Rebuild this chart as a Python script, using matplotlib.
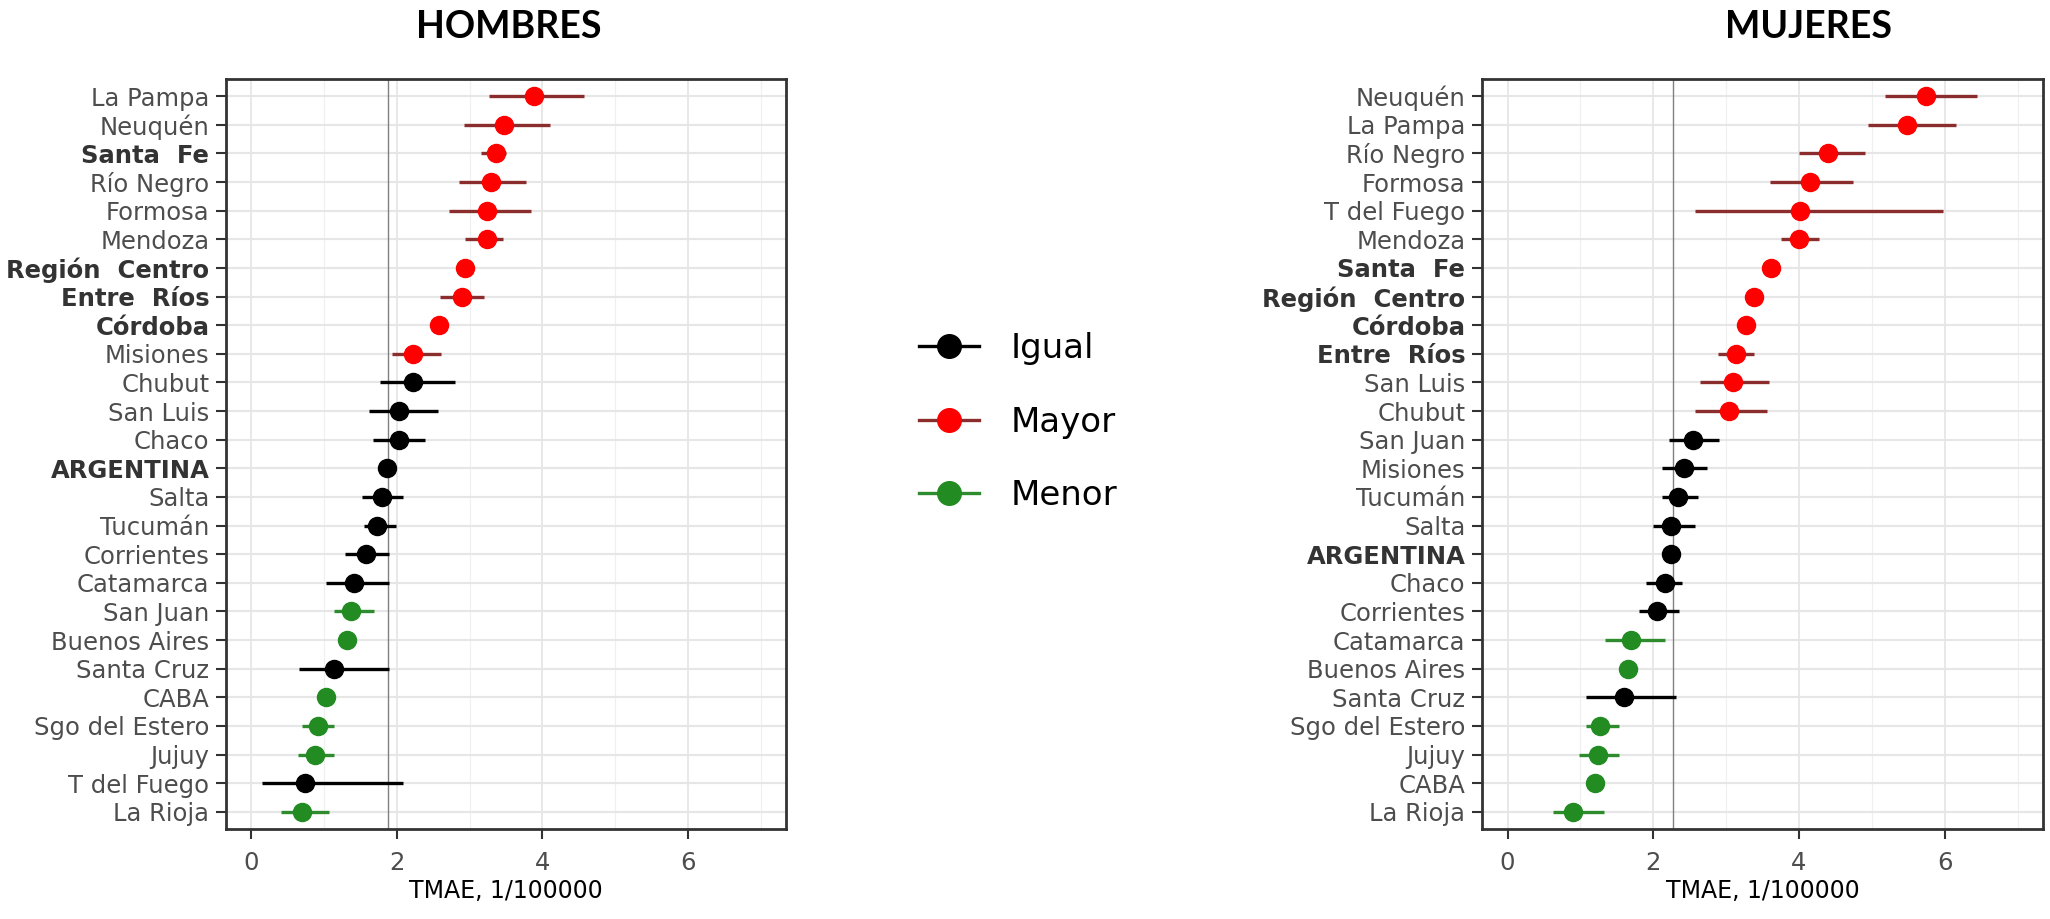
import matplotlib
matplotlib.use("Agg")
import matplotlib.pyplot as plt
from matplotlib.lines import Line2D
import numpy as np

# ---------------- DATA ----------------
names_h = ["La Pampa", "Neuquén", "Santa Fe", "Río Negro", "Formosa", "Mendoza",
           "Región Centro", "Entre Ríos", "Córdoba", "Misiones", "Chubut", "San Luis",
           "Chaco", "ARGENTINA", "Salta", "Tucumán", "Corrientes", "Catamarca",
           "San Juan", "Buenos Aires", "Santa Cruz", "CABA", "Sgo del Estero",
           "Jujuy", "T del Fuego", "La Rioja"]
est_h = [3.89, 3.47, 3.36, 3.30, 3.24, 3.24, 2.93, 2.90, 2.58, 2.22, 2.22, 2.03, 2.03,
         1.87, 1.80, 1.73, 1.57, 1.41, 1.37, 1.31, 1.14, 1.02, 0.91, 0.88, 0.73, 0.70]
lo_h = [3.27, 2.92, 3.15, 2.85, 2.72, 2.94, 2.83, 2.59, 2.48, 1.93, 1.77, 1.61, 1.67,
        1.82, 1.52, 1.55, 1.28, 1.02, 1.13, 1.25, 0.66, 0.96, 0.70, 0.64, 0.15, 0.41]
hi_h = [4.57, 4.11, 3.50, 3.78, 3.85, 3.46, 3.04, 3.20, 2.69, 2.60, 2.80, 2.57, 2.38,
        1.92, 2.09, 1.99, 1.89, 1.89, 1.69, 1.38, 1.89, 1.08, 1.14, 1.13, 2.09, 1.07]
grp_h = ["Mayor"] * 10 + ["Igual"] * 8 + ["Menor", "Menor", "Igual", "Menor", "Menor",
                                          "Menor", "Igual", "Menor"]
ref_h = 1.88

names_m = ["Neuquén", "La Pampa", "Río Negro", "Formosa", "T del Fuego", "Mendoza",
           "Santa Fe", "Región Centro", "Córdoba", "Entre Ríos", "San Luis", "Chubut",
           "San Juan", "Misiones", "Tucumán", "Salta", "ARGENTINA", "Chaco", "Corrientes",
           "Catamarca", "Buenos Aires", "Santa Cruz", "Sgo del Estero", "Jujuy", "CABA",
           "La Rioja"]
est_m = [5.75, 5.49, 4.40, 4.15, 4.02, 4.00, 3.62, 3.39, 3.27, 3.13, 3.10, 3.04, 2.54,
         2.42, 2.34, 2.25, 2.25, 2.16, 2.05, 1.70, 1.66, 1.60, 1.27, 1.24, 1.20, 0.90]
lo_m = [5.18, 4.95, 4.00, 3.60, 2.58, 3.76, 3.52, 3.30, 3.17, 2.89, 2.64, 2.58, 2.22,
        2.12, 2.12, 2.00, 2.20, 1.90, 1.80, 1.34, 1.60, 1.08, 1.08, 0.98, 1.15, 0.63]
hi_m = [6.44, 6.15, 4.90, 4.74, 5.98, 4.27, 3.72, 3.48, 3.37, 3.39, 3.59, 3.56, 2.90,
        2.74, 2.61, 2.57, 2.30, 2.40, 2.35, 2.16, 1.72, 2.31, 1.53, 1.53, 1.25, 1.32]
grp_m = ["Mayor"] * 12 + ["Igual"] * 7 + ["Menor", "Menor", "Igual", "Menor", "Menor",
                                          "Menor", "Menor"]
ref_m = 2.27

bold_names = ["Santa Fe", "Región Centro", "Entre Ríos", "Córdoba", "ARGENTINA"]
legend_labels = ["Igual", "Mayor", "Menor"]
x_ticks = [0, 2, 4, 6]
x_label = "TMAE, 1/100000"
titles = ["HOMBRES", "MUJERES"]

# ---------------- STYLE ----------------
point_col = {"Igual": "#000000", "Mayor": "#FF0000", "Menor": "#228B22"}
line_col = {"Igual": "#000000", "Mayor": "#8B2D2D", "Menor": "#2E8B2E"}

W, H = 2050, 919
DPI = 100
fig = plt.figure(figsize=(W / DPI, H / DPI), dpi=DPI)
plt.rcParams["font.family"] = ["DejaVu Sans"]

ax_h = fig.add_axes([226 / W, 1 - 829 / H, 560 / W, 750 / H])
ax_m = fig.add_axes([1482 / W, 1 - 829 / H, 561 / W, 750 / H])


def draw(ax, names, est, lo, hi, grp, ref):
    n = len(names)
    y = np.arange(n)[::-1]
    ax.set_xlim(-0.35, 7.35)
    ax.set_ylim(-0.6, n - 1 + 0.6)
    # grid
    for v in [1, 3, 5, 7]:
        ax.axvline(v, color="#F0F0F0", lw=0.9, zorder=0)
    for v in x_ticks:
        ax.axvline(v, color="#E6E6E6", lw=1.3, zorder=0)
    for yy in y:
        ax.axhline(yy, color="#E6E6E6", lw=1.5, zorder=0)
    ax.axvline(ref, color="#808080", lw=1.0, zorder=1)
    for yy, e, l, h, g in zip(y, est, lo, hi, grp):
        ax.plot([l, h], [yy, yy], color=line_col[g], lw=2.4, solid_capstyle="butt", zorder=2)
        ax.plot([e], [yy], marker="o", ms=13, color=point_col[g],
                markeredgecolor=point_col[g], zorder=3)
    ax.set_yticks(y)
    labels = [nm.replace(" ", "  ") if nm in bold_names and nm != "ARGENTINA" else nm
              for nm in names]
    ax.set_yticklabels(labels)
    for t, nm in zip(ax.get_yticklabels(), names):
        if nm in bold_names:
            t.set_fontweight("bold")
            t.set_color("#333333")
        else:
            t.set_color("#4D4D4D")
    ax.set_xticks(x_ticks)
    ax.set_xticklabels([str(v) for v in x_ticks], color="#4D4D4D")
    ax.tick_params(axis="both", labelsize=17.5, color="#333333", width=1.5, length=7)
    ax.tick_params(axis="y", pad=5)
    ax.tick_params(axis="x", pad=9)
    ax.set_xlabel(x_label, fontsize=17, color="#000000", labelpad=3)
    for s in ax.spines.values():
        s.set_color("#333333")
        s.set_linewidth(2.0)


draw(ax_h, names_h, est_h, lo_h, hi_h, grp_h, ref_h)
draw(ax_m, names_m, est_m, lo_m, hi_m, grp_m, ref_m)

fig.text(509 / W, 1 - 27 / H, titles[0], ha="center", va="center",
         fontsize=27, fontweight="bold", family=["Lato", "DejaVu Sans"])
fig.text(1808 / W, 1 - 27 / H, titles[1], ha="center", va="center",
         fontsize=27, fontweight="bold", family=["Lato", "DejaVu Sans"])

handles = [Line2D([0], [0], color=line_col[g], lw=2.4, marker="o", ms=17,
                  markerfacecolor=point_col[g], markeredgecolor=point_col[g])
           for g in legend_labels]
fig.legend(handles, legend_labels, loc="center left",
           bbox_to_anchor=(919 / W, 1 - 422 / H), frameon=False,
           fontsize=24.5, handlelength=1.75, handletextpad=0.95,
           labelspacing=1.18, borderpad=0, borderaxespad=0)

fig.savefig("out.png", dpi=DPI)
